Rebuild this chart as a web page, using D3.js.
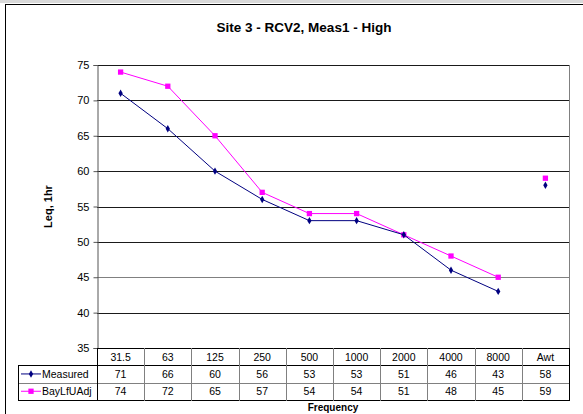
<!DOCTYPE html>
<html>
<head>
<meta charset="utf-8">
<script src="https://cdn.jsdelivr.net/npm/d3@7"></script>
<style>
  body { margin: 0; background: #fff; }
  text { font-family: "Liberation Sans", Arial, sans-serif; }
</style>
</head>
<body>
<svg id="chart" width="583" height="414"></svg>
<script>
// chart data
const categories = ["31.5", "63", "125", "250", "500", "1000", "2000", "4000", "8000", "Awt"];
const measured = [71, 66, 60, 56, 53, 53, 51, 46, 43, 58];
const bayLfUAdj = [74, 72, 65, 57, 54, 54, 51, 48, 45, 59];
const seriesNames = ["Measured", "BayLfUAdj"];
const yTicks = [35, 40, 45, 50, 55, 60, 65, 70, 75];

const svg = d3.select("#chart");

// frame
svg.append("rect").attr("x", 0).attr("y", 0).attr("width", 583).attr("height", 3).attr("fill", "#d9d9d9");
svg.append("rect")
  .attr("x", 5.5).attr("y", 4.5).attr("width", 600).attr("height", 420)
  .attr("fill", "#fff").attr("stroke", "#000").attr("stroke-width", 1);

const plotLeft = 97, plotRight = 569, plotTop = 65, plotBottom = 348;

const x = d3.scaleBand().domain(categories).range([plotLeft, plotRight]).padding(0);
const y = d3.scaleLinear().domain([35, 75]).range([plotBottom, plotTop]);

// title
svg.append("text")
  .attr("x", 304).attr("y", 32)
  .attr("text-anchor", "middle")
  .style("font-size", "13.5px").style("font-weight", "bold")
  .text("Site 3 - RCV2, Meas1 - High");

// gridlines
svg.append("g").selectAll("line")
  .data(yTicks.filter(d => d > 35))
  .enter().append("line")
  .attr("x1", plotLeft).attr("x2", plotRight)
  .attr("y1", d => Math.round(y(d)) + 0.5).attr("y2", d => Math.round(y(d)) + 0.5)
  .attr("stroke", d => d === 45 ? "#808080" : "#1a1a1a")
  .attr("stroke-width", 1);

// plot border (right side)
svg.append("line")
  .attr("x1", plotRight + 0.5).attr("x2", plotRight + 0.5).attr("y1", plotTop).attr("y2", plotBottom)
  .attr("stroke", "#808080");

// y axis
const yAxis = d3.axisLeft(y).tickValues(yTicks).tickSize(4).tickPadding(4);
const gy = svg.append("g").attr("transform", `translate(${plotLeft + 0.5},0)`).call(yAxis);
gy.select(".domain").attr("stroke", "#555");
gy.selectAll(".tick line").attr("stroke", "#555");
gy.selectAll(".tick text").style("font-size", "11px").attr("fill", "#000")
  .style("font-family", "Liberation Sans, Arial, sans-serif");

// y label
svg.append("text")
  .attr("transform", `translate(52, ${(plotTop + plotBottom) / 2}) rotate(-90)`)
  .attr("text-anchor", "middle")
  .style("font-size", "11px").style("font-weight", "bold")
  .text("Leq, 1hr");

// series
const colors = ["#000080", "#ff00ff"];
const seriesData = [measured, bayLfUAdj];
const lineCats = categories.slice(0, 9);
const symTypes = [d3.symbolDiamond, d3.symbolSquare];
const symSizes = [16, 28];

const line = d3.line()
  .x(d => x(d.cat) + x.bandwidth() / 2)
  .y(d => y(d.v));

seriesData.slice().reverse().forEach((vals, ri) => {
  const i = seriesData.length - 1 - ri;
  const pts = categories.map((c, j) => ({ cat: c, v: vals[j] }));
  svg.append("path")
    .datum(pts.filter(p => lineCats.includes(p.cat)))
    .attr("d", line)
    .attr("fill", "none")
    .attr("stroke", colors[i])
    .attr("stroke-width", 1);
  svg.append("g").selectAll("path")
    .data(pts).enter().append("path")
    .attr("d", d3.symbol().type(symTypes[i]).size(symSizes[i]))
    .attr("transform", d => `translate(${x(d.cat) + x.bandwidth() / 2},${y(d.v)})`)
    .attr("fill", colors[i]);
});

// data table
const rowH = 17.3;
const tableLeft = 18;
const tbl = svg.append("g");
const rowTops = [plotBottom, plotBottom + rowH, plotBottom + rowH * 2];
const tableBottom = plotBottom + rowH * 3;

// horizontal lines
tbl.append("line").attr("x1", plotLeft).attr("x2", plotRight + 1)
  .attr("y1", plotBottom + 0.5).attr("y2", plotBottom + 0.5).attr("stroke", "#000");
[1, 2].forEach(k => {
  tbl.append("line").attr("x1", tableLeft).attr("x2", plotRight + 1)
    .attr("y1", Math.round(rowTops[k]) + 0.5).attr("y2", Math.round(rowTops[k]) + 0.5)
    .attr("stroke", k === 2 ? "#808080" : "#000");
});
tbl.append("line").attr("x1", tableLeft).attr("x2", plotRight + 1)
  .attr("y1", Math.round(tableBottom) + 0.5).attr("y2", Math.round(tableBottom) + 0.5)
  .attr("stroke", "#000");

// vertical lines
tbl.append("line").attr("x1", tableLeft + 0.5).attr("x2", tableLeft + 0.5)
  .attr("y1", Math.round(rowTops[1])).attr("y2", Math.round(tableBottom) + 1).attr("stroke", "#000");
categories.forEach((c, j) => {
  const xx = Math.round(x(c)) + 0.5;
  tbl.append("line").attr("x1", xx).attr("x2", xx)
    .attr("y1", plotBottom).attr("y2", Math.round(tableBottom) + 1)
    .attr("stroke", j === 0 ? "#000" : "#808080");
});
tbl.append("line").attr("x1", plotRight + 0.5).attr("x2", plotRight + 0.5)
  .attr("y1", plotBottom).attr("y2", Math.round(tableBottom) + 1).attr("stroke", "#000");

// header labels
tbl.selectAll(".hdr").data(categories).enter().append("text")
  .attr("x", d => x(d) + x.bandwidth() / 2)
  .attr("y", plotBottom + rowH / 2 + 4)
  .attr("text-anchor", "middle")
  .style("font-size", "10.5px")
  .text(d => d);

// value rows
seriesData.forEach((vals, i) => {
  const cy = rowTops[i + 1] + rowH / 2;
  tbl.append("g").selectAll("text").data(vals).enter().append("text")
    .attr("x", (d, j) => x(categories[j]) + x.bandwidth() / 2)
    .attr("y", cy + 4)
    .attr("text-anchor", "middle")
    .style("font-size", "10.5px")
    .text(d => d);
  // legend key
  tbl.append("line").attr("x1", 21).attr("x2", 41).attr("y1", cy).attr("y2", cy)
    .attr("stroke", colors[i]).attr("stroke-width", 1);
  tbl.append("path")
    .attr("d", d3.symbol().type(symTypes[i]).size(symSizes[i]))
    .attr("transform", `translate(31,${cy})`)
    .attr("fill", colors[i]);
  tbl.append("text")
    .attr("x", 42).attr("y", cy + 4)
    .style("font-size", "10.5px")
    .text(seriesNames[i]);
});

// x title
svg.append("text")
  .attr("x", (plotLeft + plotRight) / 2).attr("y", 411)
  .attr("text-anchor", "middle")
  .style("font-size", "10px").style("font-weight", "bold")
  .text("Frequency");
</script>
</body>
</html>
